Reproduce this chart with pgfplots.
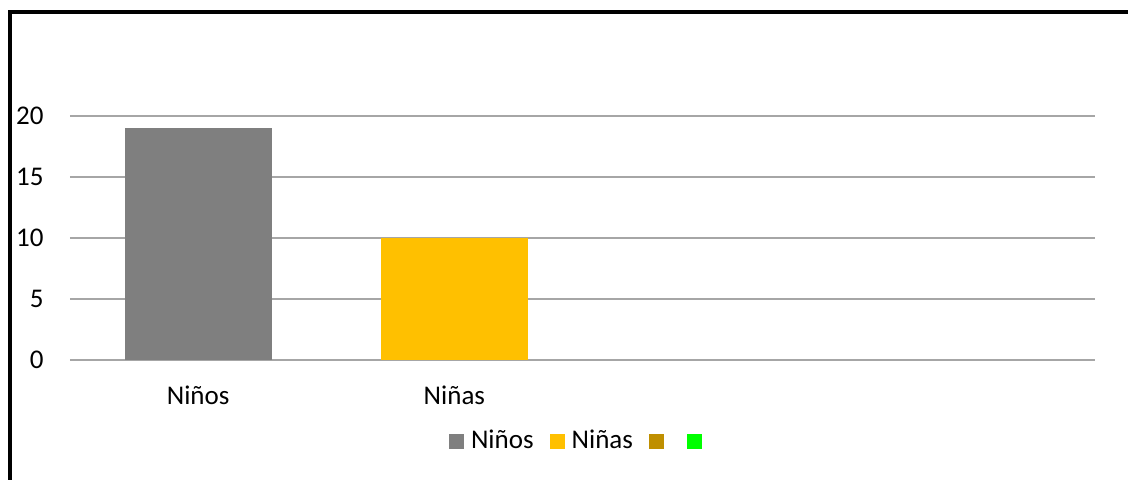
\documentclass[border=0pt]{standalone}
\usepackage{pgfplots}
\pgfplotsset{compat=1.18}
\usepackage{fontspec}
\setmainfont{Carlito}
\definecolor{cgray}{HTML}{7F7F7F}
\definecolor{cyellow}{HTML}{FFC000}
\definecolor{cgold}{HTML}{BF8F00}
\definecolor{cgreen}{HTML}{00FF00}
\definecolor{gridc}{HTML}{A6A6A6}
\pgfplotsset{mylegend/.style={legend image code/.code={\fill[##1] (0pt,-3.75pt) rectangle (7.5pt,3.75pt);}}}
\begin{document}
\fontsize{13.5pt}{16pt}\selectfont
\begin{tikzpicture}
\useasboundingbox (0,0) rectangle (564pt,239.5pt);
\draw[line width=2pt, line join=miter] (5pt,-3pt) -- (5pt,233.5pt) -- (568pt,233.5pt);
\begin{axis}[
  at={(35pt,59.5pt)}, anchor=south west,
  scale only axis, width=512.5pt, height=122pt,
  xmin=-0.5, xmax=3.5, ymin=0, ymax=20,
  ytick={0,5,10,15,20},
  xtick={0,1}, xticklabels={Niños,Niñas},
  axis line style={draw=none},
  major tick length=0pt,
  ymajorgrids, grid style={line width=0.75pt, color=gridc},
  ybar, bar width=73.5pt, bar shift=0pt,
  clip=false,
  tick label style={font=\fontsize{13.5pt}{16pt}\selectfont},
  /pgf/number format/assume math mode=true,
  yticklabel style={anchor=east, inner sep=0pt, xshift=-13pt},
  xticklabel style={anchor=north, inner sep=0pt, yshift=-13pt},
  legend style={at={(0.4985,-0.332)}, anchor=center, legend columns=-1,
    draw=none, fill=none, font=\fontsize{13.5pt}{16pt}\selectfont,
    /tikz/every odd column/.append style={column sep=1.5pt},
    /tikz/every even column/.append style={column sep=6pt}},
]
\addplot[fill=cgray, draw=none, mylegend] coordinates {(0,19)};
\addlegendentry{Niños}
\addplot[fill=cyellow, draw=none, mylegend] coordinates {(1,10)};
\addlegendentry{Niñas}
\addlegendimage{mylegend, fill=cgold, draw=none}
\addlegendentry{}
\addlegendimage{mylegend, fill=cgreen, draw=none}
\addlegendentry{}
\end{axis}
\end{tikzpicture}
\end{document}
